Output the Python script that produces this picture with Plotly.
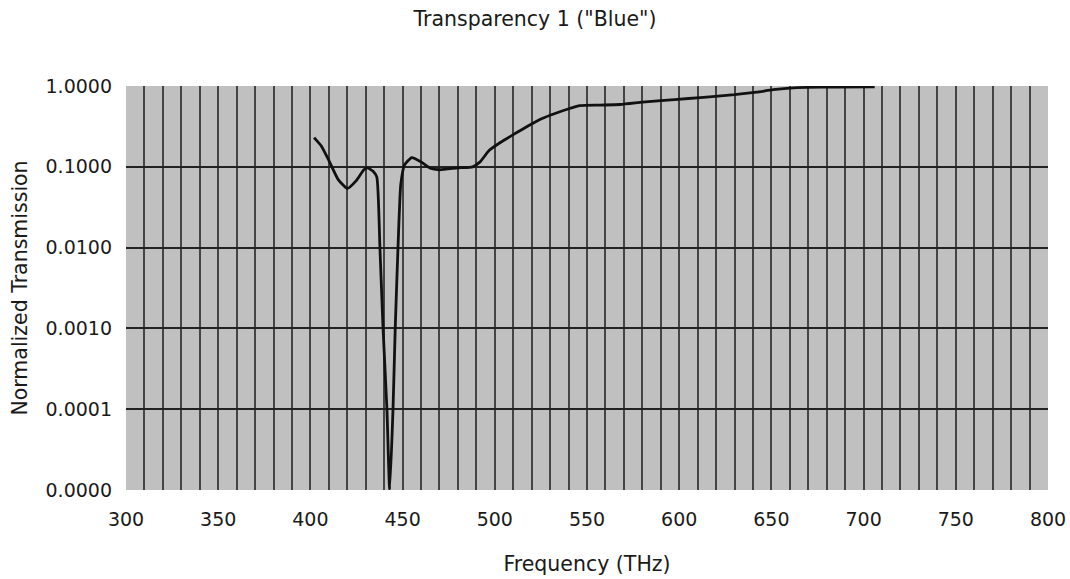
import plotly.graph_objects as go

freq = [402, 406, 410, 415, 420, 425, 429, 431, 434, 436, 437.7, 439.4, 441.5, 443, 444.8, 446, 447.5, 449, 451, 455, 460, 465, 470, 480, 488, 492, 497, 503, 510, 518, 525, 533, 541, 546, 557, 568, 580, 590, 605, 618, 630, 642, 651, 660, 669, 685, 706]
trans = [0.23, 0.18, 0.12, 0.07, 0.054, 0.068, 0.092, 0.097, 0.088, 0.075, 0.01, 0.001, 0.0001, 0.00001, 0.0001, 0.001, 0.01, 0.06, 0.105, 0.13, 0.115, 0.096, 0.092, 0.097, 0.1, 0.115, 0.16, 0.2, 0.25, 0.32, 0.39, 0.46, 0.53, 0.57, 0.58, 0.59, 0.63, 0.66, 0.7, 0.74, 0.78, 0.84, 0.9, 0.94, 0.96, 0.97, 0.975]

y_tickvals = [1, 0.1, 0.01, 0.001, 0.0001, 0.00001]
y_ticktext = ["1.0000", "0.1000", "0.0100", "0.0010", "0.0001", "0.0000"]
x_tickvals = [300, 350, 400, 450, 500, 550, 600, 650, 700, 750, 800]

fig = go.Figure()
fig.add_trace(go.Scatter(x=freq, y=trans, mode="lines",
                         line=dict(color="#111111", width=2.8, shape="spline", smoothing=0.5),
                         showlegend=False, hoverinfo="skip"))

fig.update_layout(
    width=1070, height=579,
    margin=dict(l=126, r=22, t=86, b=89, autoexpand=False),
    paper_bgcolor="white",
    plot_bgcolor="#c0c0c0",
    font=dict(family="DejaVu Sans, sans-serif", size=19, color="#1a1a1a"),
    title=dict(text='Transparency 1 ("Blue")', x=0.5, xanchor="center", y=1 - 19 / 579, yanchor="middle",
               font=dict(size=20.5, color="#1a1a1a")),
)
fig.update_xaxes(
    range=[300, 800], automargin=False,
    tickmode="array", tickvals=x_tickvals,
    showgrid=True, gridcolor="#444444", gridwidth=2,
    minor=dict(dtick=10, tick0=300, showgrid=True, gridcolor="#444444", gridwidth=2),
    zeroline=False, showline=False, ticks="",
    title=dict(text="Frequency (THz)", standoff=27, font=dict(size=20.5)),
    ticklabelstandoff=16,
)
fig.update_yaxes(
    type="log", range=[-5, 0], automargin=False,
    tickmode="array", tickvals=y_tickvals, ticktext=y_ticktext,
    showgrid=True, gridcolor="#222222", gridwidth=2,
    zeroline=False, showline=False, ticks="",
    title=dict(text="Normalized Transmission", standoff=12, font=dict(size=20.5)),
    ticklabelstandoff=13,
)
fig.write_html("out.html", config={"displayModeBar": False},
               post_script="document.body.style.margin='0';")
